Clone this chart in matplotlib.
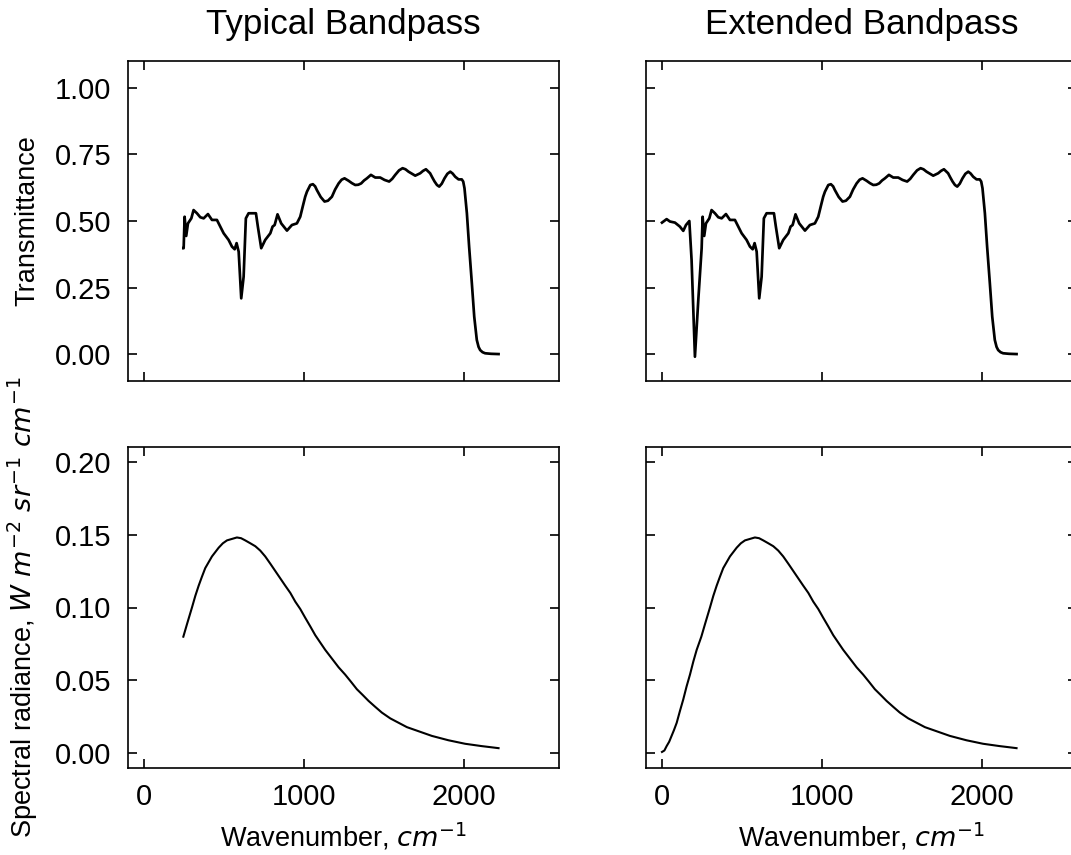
import matplotlib
matplotlib.use("Agg")
import matplotlib.pyplot as plt
import numpy as np

plt.rcParams['font.family'] = ['Liberation Sans', 'DejaVu Sans']
plt.rcParams['mathtext.fontset'] = 'dejavusans'
plt.rcParams['font.size'] = 14

# Filter transmittance, extended bandpass (wavenumber in cm^-1)
trans_wn = [0, 29, 50, 81, 112, 133, 150, 171, 185, 206, 227, 248, 254, 264,
            275, 296, 310, 331, 352, 373, 400, 425, 456, 477, 498, 529, 550,
            567, 579, 592, 608, 623, 637, 654, 700, 712, 733, 758, 790, 804,
            817, 835, 858, 894, 925, 956, 977, 995, 1008, 1019, 1040, 1056,
            1070, 1081, 1105, 1129, 1150, 1175, 1195, 1217, 1236, 1254, 1279,
            1300, 1321, 1340, 1358, 1376, 1394, 1419, 1446, 1477, 1504, 1533,
            1552, 1571, 1595, 1617, 1635, 1654, 1696, 1727, 1745, 1763, 1789,
            1803, 1817, 1832, 1846, 1862, 1879, 1897, 1915, 1930, 1946, 1967,
            1987, 1996, 2004, 2019, 2033, 2050, 2065, 2081, 2092, 2102, 2117,
            2133, 2170, 2217]
trans_val = [0.494, 0.507, 0.498, 0.494, 0.479, 0.463, 0.485, 0.500, 0.354,
             -0.009, 0.204, 0.398, 0.516, 0.444, 0.491, 0.510, 0.541, 0.529,
             0.514, 0.510, 0.526, 0.504, 0.504, 0.479, 0.454, 0.429, 0.404,
             0.394, 0.417, 0.385, 0.210, 0.291, 0.510, 0.529, 0.529, 0.479,
             0.398, 0.429, 0.454, 0.479, 0.485, 0.525, 0.491, 0.464, 0.485,
             0.491, 0.516, 0.560, 0.591, 0.610, 0.635, 0.638, 0.630, 0.616,
             0.590, 0.573, 0.576, 0.591, 0.618, 0.641, 0.655, 0.660, 0.651,
             0.642, 0.635, 0.636, 0.641, 0.652, 0.660, 0.673, 0.663, 0.663,
             0.654, 0.648, 0.658, 0.673, 0.690, 0.698, 0.694, 0.685, 0.670,
             0.679, 0.688, 0.694, 0.679, 0.663, 0.648, 0.635, 0.629, 0.640,
             0.660, 0.677, 0.685, 0.678, 0.666, 0.656, 0.656, 0.648, 0.623,
             0.529, 0.404, 0.267, 0.141, 0.054, 0.028, 0.016, 0.008, 0.004,
             0.002, 0.001]

# Spectral radiance, extended bandpass
rad_wn = [0, 15, 29, 45, 60, 75, 92, 112, 133, 154, 175, 196, 217, 246, 270,
          300, 321, 342, 362, 383, 404, 425, 446, 467, 493, 519, 550, 581,
          607, 633, 665, 696, 727, 758, 790, 821, 852, 883, 915, 946, 977,
          1008, 1040, 1071, 1102, 1133, 1175, 1217, 1258, 1295, 1331, 1368,
          1404, 1445, 1487, 1540, 1592, 1644, 1696, 1748, 1800, 1852, 1904,
          1956, 2008, 2060, 2112, 2165, 2217]
rad_val = [0.001, 0.002, 0.005, 0.008, 0.012, 0.016, 0.021, 0.029, 0.037,
           0.046, 0.054, 0.063, 0.071, 0.080, 0.089, 0.100, 0.108, 0.115,
           0.121, 0.127, 0.131, 0.135, 0.138, 0.141, 0.144, 0.146, 0.147,
           0.148, 0.1475, 0.146, 0.144, 0.142, 0.139, 0.135, 0.130, 0.125,
           0.120, 0.115, 0.110, 0.104, 0.099, 0.093, 0.087, 0.081, 0.076,
           0.071, 0.065, 0.059, 0.054, 0.049, 0.044, 0.040, 0.036, 0.032,
           0.028, 0.024, 0.021, 0.018, 0.016, 0.014, 0.012, 0.0105, 0.009,
           0.0078, 0.0066, 0.0058, 0.005, 0.0043, 0.0036]

# the typical bandpass starts where the extended one is cut
TYPICAL_START = 246
TYPICAL_T0 = 0.398

trans_wn = np.array(trans_wn)
trans_val = np.array(trans_val)
rad_wn = np.array(rad_wn)
rad_val = np.array(rad_val)

typ_t = trans_wn >= TYPICAL_START
typ_wn = np.concatenate([[TYPICAL_START], trans_wn[typ_t]])
typ_val = np.concatenate([[TYPICAL_T0], trans_val[typ_t]])
typ_r = rad_wn >= TYPICAL_START

fig, axes = plt.subplots(2, 2, figsize=(7.14, 5.7), dpi=150,
                         sharex=True, sharey='row')

W, H = 1071, 855
for col, x0 in enumerate([128, 646]):
    axes[0, col].set_position([x0 / W, 1 - 381 / H, 431 / W, 320 / H])
    axes[1, col].set_position([x0 / W, 1 - 768 / H, 431 / W, 321 / H])

axes[0, 0].plot(typ_wn, typ_val, color='black', lw=1.3)
axes[0, 1].plot(trans_wn, trans_val, color='black', lw=1.3)
axes[1, 0].plot(rad_wn[typ_r], rad_val[typ_r], color='black', lw=1.0)
axes[1, 1].plot(rad_wn, rad_val, color='black', lw=1.0)

axes[0, 0].set_title('Typical Bandpass', pad=13)
axes[0, 1].set_title('Extended Bandpass', pad=13)

axes[0, 0].set_ylim(-0.1, 1.1)
axes[0, 0].set_yticks([0.0, 0.25, 0.5, 0.75, 1.0])
axes[1, 0].set_ylim(-0.01, 0.21)
axes[1, 0].set_yticks([0.0, 0.05, 0.1, 0.15, 0.2])
axes[1, 0].set_xlim(-100, 2595)
axes[1, 0].set_xticks([0, 1000, 2000])

axes[0, 0].set_ylabel('Transmittance', fontsize=13, labelpad=7)
axes[1, 0].set_ylabel(r'Spectral radiance, $W\ m^{-2}\ sr^{-1}\ cm^{-1}$',
                      fontsize=13, labelpad=7)
for ax in axes[1]:
    ax.set_xlabel(r'Wavenumber, $cm^{-1}$', fontsize=13, labelpad=5)

for ax in axes.flat:
    ax.tick_params(direction='in', top=True, right=True, length=4.5)
    ax.tick_params(axis='x', pad=7)
    ax.tick_params(axis='y', pad=8)
fig.align_ylabels(axes[:, 0])

fig.savefig('out.png', dpi=150)
